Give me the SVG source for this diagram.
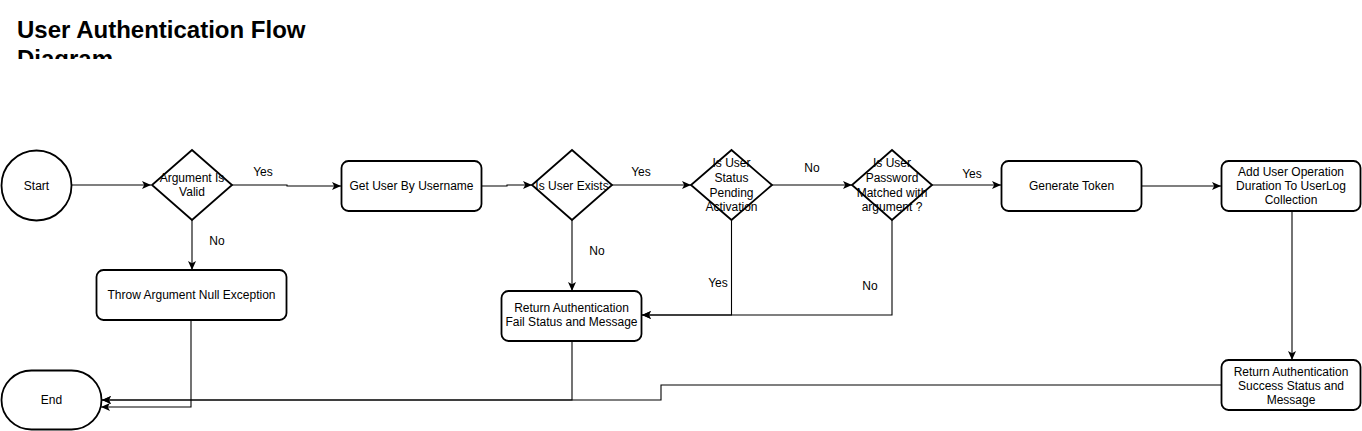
<svg xmlns="http://www.w3.org/2000/svg" width="1362" height="431" viewBox="0 0 1362 431">
<style>
text{font-family:"Liberation Sans",Arial,sans-serif;font-size:12px;fill:#000;text-anchor:middle}
.title{font-size:24px;font-weight:bold;text-anchor:start}
.node{fill:#fff;stroke:#000;stroke-width:1.8}
.edge{fill:none;stroke:#000;stroke-width:1.1}
</style>
<defs>
<marker id="arr" markerUnits="userSpaceOnUse" viewBox="0 0 9 9" refX="9" refY="4.5" markerWidth="9" markerHeight="9" orient="auto">
<path d="M0,0.5 L9,4.5 L0,8.5 L2.2,4.5 Z" fill="#000"/>
</marker>
<clipPath id="tc"><rect x="0" y="0" width="420" height="59"/></clipPath>
</defs>
<rect width="1362" height="431" fill="#fff"/>
<g id="title" clip-path="url(#tc)">
<text class="title" x="17" y="38">User Authentication Flow</text>
<text class="title" x="17" y="67">Diagram</text>
</g>
<g id="connectors">
<path class="edge" d="M72,185 H151" marker-end="url(#arr)"/>
<path class="edge" d="M232,185 H287 V186 H341" marker-end="url(#arr)"/>
<path class="edge" d="M192,220 V270" marker-end="url(#arr)"/>
<path class="edge" d="M482,186 H507 V185 H532" marker-end="url(#arr)"/>
<path class="edge" d="M612,185 H691" marker-end="url(#arr)"/>
<path class="edge" d="M572,220 V291" marker-end="url(#arr)"/>
<path class="edge" d="M772,185 H852" marker-end="url(#arr)"/>
<path class="edge" d="M731.5,220 V315 H642" marker-end="url(#arr)"/>
<path class="edge" d="M892,220 V315 H642" marker-end="url(#arr)"/>
<path class="edge" d="M932,185 H1001" marker-end="url(#arr)"/>
<path class="edge" d="M1142,186 H1221" marker-end="url(#arr)"/>
<path class="edge" d="M1292,211 V360" marker-end="url(#arr)"/>
<path class="edge" d="M1221,385 H661 V400 H102" marker-end="url(#arr)"/>
<path class="edge" d="M572,341 V400 H102" marker-end="url(#arr)"/>
<path class="edge" d="M191,320 V407 H101" marker-end="url(#arr)"/>
<text x="263" y="176">Yes</text>
<text x="217" y="245">No</text>
<text x="641" y="176">Yes</text>
<text x="597" y="255">No</text>
<text x="812" y="172">No</text>
<text x="972" y="178">Yes</text>
<text x="718" y="287">Yes</text>
<text x="870" y="290">No</text>
</g>
<g id="start">
<circle class="node" cx="36.5" cy="185.5" r="35"/>
<text x="36.5" y="190">Start</text>
</g>
<g id="argValid">
<path class="node" d="M192,150 L232,185 L192,220 L152,185 Z"/>
<text x="192" y="182">Argument Is</text>
<text x="192" y="196">Valid</text>
</g>
<g id="throwEx">
<rect class="node" x="96.5" y="270" width="190" height="50" rx="7"/>
<text x="191.5" y="299">Throw Argument Null Exception</text>
</g>
<g id="getUser">
<rect class="node" x="341.5" y="161" width="140" height="50" rx="7"/>
<text x="411.5" y="190">Get User By Username</text>
</g>
<g id="userExists">
<path class="node" d="M572,150 L612,185 L572,220 L532,185 Z"/>
<text x="572" y="190">Is User Exists</text>
</g>
<g id="failBox">
<rect class="node" x="501.5" y="291" width="140" height="50" rx="7"/>
<text x="571.5" y="312">Return Authentication</text>
<text x="571.5" y="326">Fail Status and Message</text>
</g>
<g id="pending">
<path class="node" d="M731.5,150 L772,185 L731.5,220 L691,185 Z"/>
<text x="731.5" y="167">Is User</text>
<text x="731.5" y="182">Status</text>
<text x="731.5" y="197">Pending</text>
<text x="731.5" y="211">Activation</text>
</g>
<g id="pwdMatch">
<path class="node" d="M892,150 L932,185 L892,220 L852,185 Z"/>
<text x="892" y="167">Is User</text>
<text x="892" y="182">Password</text>
<text x="892" y="197">Matched with</text>
<text x="892" y="211">argument ?</text>
</g>
<g id="genToken">
<rect class="node" x="1001.5" y="161" width="140" height="50" rx="7"/>
<text x="1071.5" y="190">Generate Token</text>
</g>
<g id="addLog">
<rect class="node" x="1221.5" y="161" width="139" height="50" rx="7"/>
<text x="1291" y="176">Add User Operation</text>
<text x="1291" y="190">Duration To UserLog</text>
<text x="1291" y="204">Collection</text>
</g>
<g id="successBox">
<rect class="node" x="1221.5" y="360" width="139" height="50" rx="7"/>
<text x="1291" y="376">Return Authentication</text>
<text x="1291" y="390">Success Status and</text>
<text x="1291" y="404">Message</text>
</g>
<g id="end">
<rect class="node" x="1.5" y="370.5" width="100" height="59" rx="30" ry="29.5"/>
<text x="51.5" y="404">End</text>
</g>
</svg>
